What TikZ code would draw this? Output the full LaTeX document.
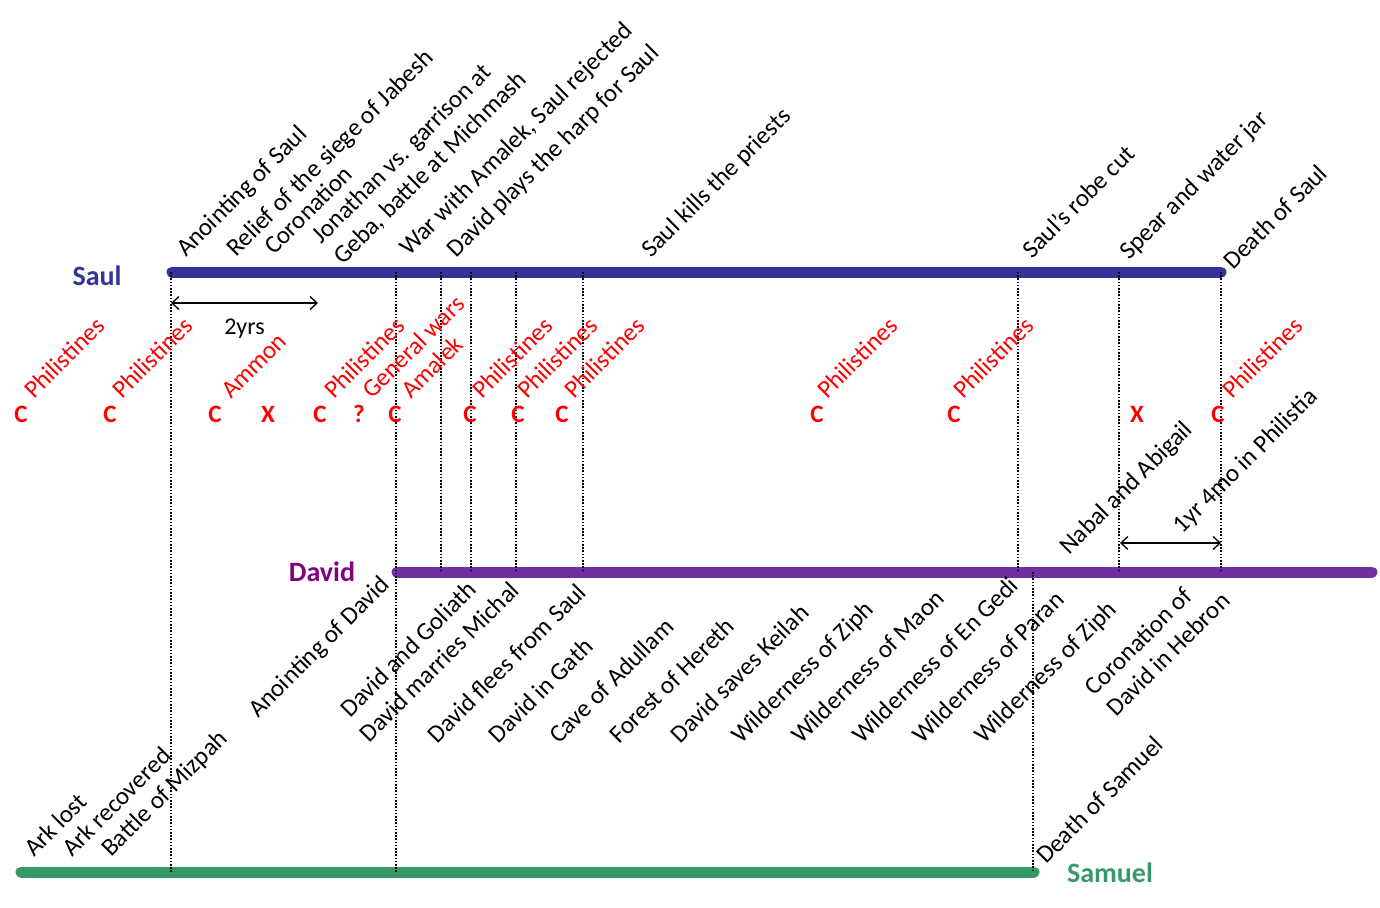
\documentclass[tikz,border=0pt]{standalone}
\usepackage{fontspec}
\setmainfont{Carlito}
\usetikzlibrary{arrows.meta}

\definecolor{saulblue}{RGB}{51,51,153}
\definecolor{davidline}{RGB}{112,48,160}
\definecolor{davidname}{RGB}{128,0,128}
\definecolor{samgreen}{RGB}{56,153,104}

\begin{document}
\begin{tikzpicture}[
    x=1pt, y=-1pt,   % pixel grid, y downwards
    ev/.style={font=\fontsize{25}{30}\selectfont, rotate=45, anchor=base west, inner sep=0pt},
    ev2/.style={ev, align=left},
    war/.style={ev, text=red},
    hit/.style={font=\bfseries\fontsize{25}{30}\selectfont, text=red, inner sep=0pt},
    who/.style={font=\bfseries\fontsize{28}{34}\selectfont, inner sep=0pt},
    bar/.style={line width=11pt, line cap=round},
    guide/.style={line width=1.2pt, dash pattern=on 1.6pt off 1.6pt},
    span/.style={<->, >={Straight Barb[length=7pt,width=13pt]}, line width=1.3pt}
  ]
  \useasboundingbox (0,0) rectangle (1380,907);

  % lebenslinien
  \coordinate (saulL) at (172,272);  \coordinate (saulR) at (1221,272);
  \coordinate (davL) at (397,572);   \coordinate (davR) at (1372,572);
  \coordinate (samL) at (21,872);    \coordinate (samR) at (1034,872);
  \draw[bar, saulblue] (saulL) -- (saulR);
  \draw[bar, davidline] (davL) -- (davR);
  \draw[bar, samgreen] (samL) -- (samR);

  \node[who, text=saulblue] (saul) at (97,276) {Saul};
  \node[who, text=davidname] (david) at (322,572) {David};
  \node[who, text=samgreen] (samuel) at (1110,873) {Samuel};

  % Hilfslinien Saul -> David
  \foreach \x [count=\i] in {441,471,516,583,1018,1119,1221} {
    \coordinate (gt\i) at (\x,272);
    \coordinate (gb\i) at (\x,572);
    \draw[guide] (gt\i) -- (gb\i);
  }
  % Hilfslinien bis Samuel
  \coordinate (anS) at (171,272);  \coordinate (anSb) at (171,872);
  \coordinate (anD) at (396,272);  \coordinate (anDb) at (396,872);
  \coordinate (dsS) at (1033,572); \coordinate (dsSb) at (1033,872);
  \draw[guide] (anS) -- (anSb);
  \draw[guide] (anD) -- (anDb);
  \draw[guide] (dsS) -- (dsSb);

  % Zeitspannen
  \coordinate (twoA) at (171,303); \coordinate (twoB) at (318,303);
  \draw[span] (twoA) -- (twoB) node[midway, below=15pt, font=\fontsize{24}{28}\selectfont, inner sep=0pt] (twoyrs) {2yrs};
  \coordinate (philA) at (1120,543); \coordinate (philB) at (1221,543);
  \draw[span] (philA) -- (philB);

  % Kriege: Markierungen
  \foreach \x/\t [count=\i] in {21/C,110/C,215/C,268/X,320/C,359/?,395/C,470/C,518/C,
      562/C,817/C,954/C,1137/X,1218/C}
    \node[hit] (hit\i) at (\x,414) {\t};

  \begin{scope}[shift={(9,3)}]
  % Ereignisse Saul
  \node[ev] (anointS) at (177,255) {Anointing of Saul};
  \node[ev] (jabesh) at (227,255) {Relief of the siege of Jabesh};
  \node[ev] (coron) at (265,253) {Coronation};
  \node[ev2] (geba) at (334,263) {Jonathan vs. garrison at\\Geba, battle at Michmash};
  \node[ev] (amalek) at (400,254) {War with Amalek, Saul rejected};
  \node[ev] (harp) at (447,256) {David plays the harp for Saul};
  \node[ev] (priests) at (642,256) {Saul kills the priests};
  \node[ev] (robe) at (1023,257) {Saul’s robe cut};
  \node[ev] (spear) at (1120,258) {Spear and water jar};
  \node[ev] (deathS) at (1224,268) {Death of Saul};

  % Kriege
  \foreach \x/\t [count=\i] in {25/Philistines,113/Philistines,222/Ammon,325/Philistines,
      363/General wars,402/Amalek,473/Philistines,518/Philistines,565/Philistines,
      818/Philistines,954/Philistines,1223/Philistines}
    \node[war] (war\i) at (\x,397) {\t};

  % Ereignisse David
  \node[ev] (nabal) at (1060,553) {Nabal and Abigail};
  \node[ev] (philistia) at (1173,532) {1yr 4mo in Philistia};
  \node[ev] (anointD) at (249,716) {Anointing of David};
  \node[ev] (goliath) at (341,716) {David and Goliath};
  \node[ev] (michal) at (360,741) {David marries Michal};
  \foreach \x/\t [count=\i] in {428/David flees from Saul,489/David in Gath,550/Cave of Adullam,
      610/Forest of Hereth,671/David saves Keilah,732/Wilderness of Ziph,792/Wilderness of Maon,
      853/Wilderness of En Gedi,913/Wilderness of Paran,975/Wilderness of Ziph}
    \node[ev] (flee\i) at (\x,742) {\t};
  \node[ev2] (hebron) at (1107,715) {Coronation of\\David in Hebron};

  % Ereignisse Samuel
  \node[ev] (arklost) at (25,855) {Ark lost};
  \node[ev] (arkback) at (63,855) {Ark recovered};
  \node[ev] (mizpah) at (102,855) {Battle of Mizpah};
  \node[ev] (deathSam) at (1037,862) {Death of Samuel};
  \end{scope}
\end{tikzpicture}
\end{document}
